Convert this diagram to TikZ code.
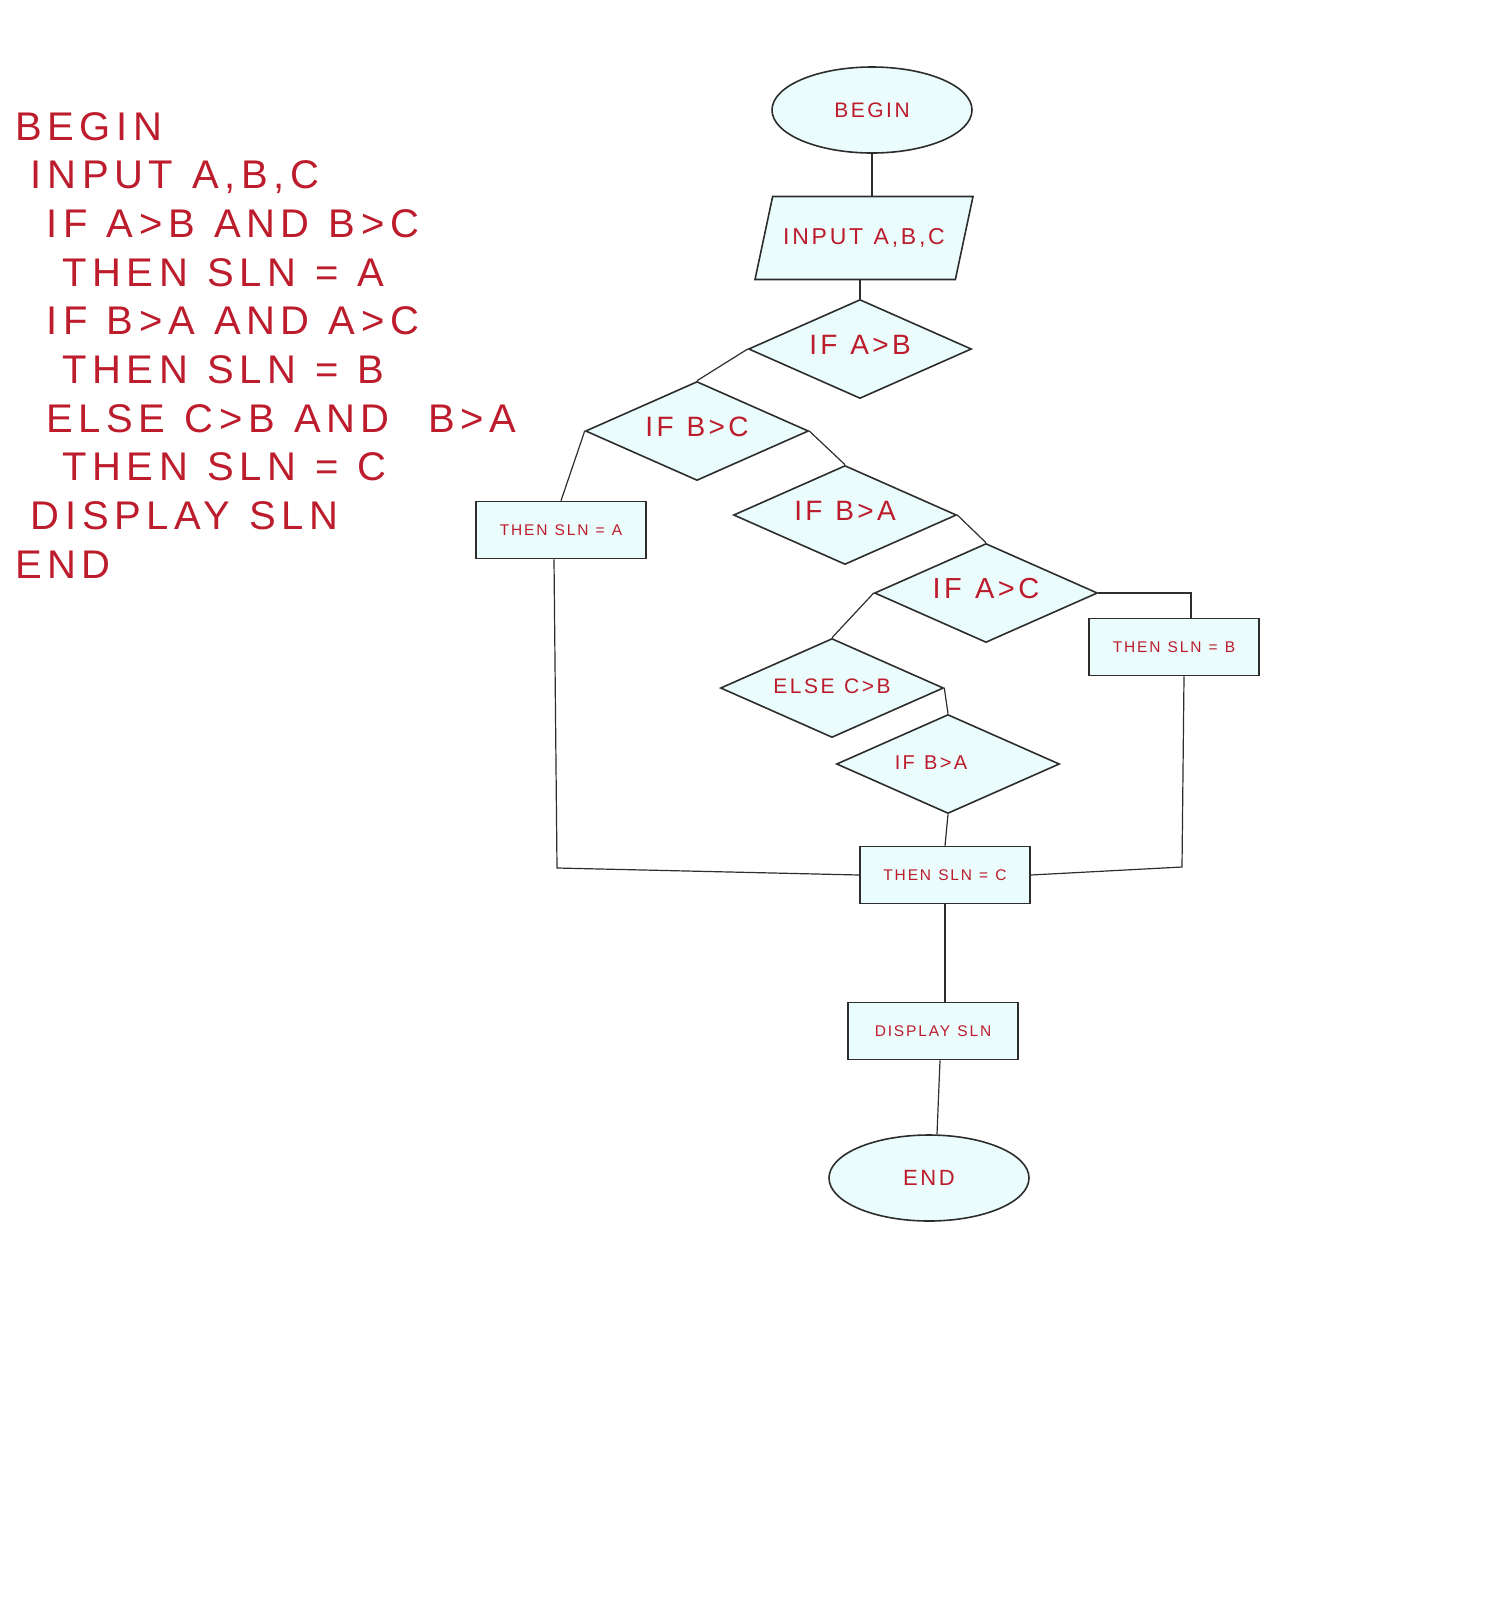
\documentclass[tikz,border=0pt]{standalone}
\usepackage{fontspec}
\setmainfont{Liberation Sans}
\newfontfamily\codefont[LetterSpace=14,WordSpace=1.15]{Liberation Sans}
\newfontfamily\chartfont[LetterSpace=12,WordSpace=1.15]{Liberation Sans}
\usetikzlibrary{shapes.geometric}

\definecolor{codered}{RGB}{188,28,44}
\definecolor{boxfill}{RGB}{234,252,252}
\definecolor{edgegray}{RGB}{45,45,45}
\newcommand\sz[1]{\fontsize{#1}{#1}\selectfont}

\tikzset{
  chart/.style={draw=edgegray, fill=boxfill, line width=1.6pt, inner sep=0pt, text=codered},
  terminal/.style={chart, ellipse, minimum width=200pt, minimum height=86pt, font=\chartfont\sz{21}},
  io/.style={chart, trapezium, trapezium left angle=78, trapezium right angle=102,
    trapezium stretches body=true, text height=16pt, text depth=4pt, inner ysep=31.5pt,
    minimum width=218pt, font=\chartfont\sz{23}},
  decision/.style={chart, diamond, aspect=2.25, minimum width=223pt, minimum height=99pt,
    text height=20pt, text depth=10pt, font=\chartfont\sz{28}},
  process/.style={chart, rectangle, minimum width=170pt, minimum height=57pt, font=\chartfont\sz{15.5}},
  code/.style={text=codered, inner sep=0pt, anchor=base west, font=\codefont\sz{40}},
  link/.style={draw=edgegray, line width=1.2pt},
}

\begin{document}
\begin{tikzpicture}[x=1pt,y=-1pt]
  \useasboundingbox (0,0) rectangle (1500,1615);

  % pseudo code
  \foreach \lvl/\txt [count=\i from 0] in {0/BEGIN, 1/{INPUT A,B,C}, 2/{IF A>B AND B>C},
      3/{THEN SLN = A}, 2/{IF B>A AND A>C}, 3/{THEN SLN = B}, 2/{ELSE C>B AND \ B>A},
      3/{THEN SLN = C}, 1/{DISPLAY SLN}, 0/END}
    \node[code] (code\i) at ({15+15.7*\lvl}, {140+48.7*\i}) {\txt};

  % flowchart
  \node[terminal] (begin) at (872,110) {BEGIN};
  \node[io] (input) at (864,238) {INPUT A,B,C};
  \node[decision] (ifab) at (860,349) {IF A>B};
  \node[decision] (ifbc) at (697,431) {IF B>C};
  \node[decision] (ifba) at (845,515) {IF B>A};
  \node[decision, font=\chartfont\sz{29}] (ifac) at (986,593) {IF A>C};
  \node[decision, font=\chartfont\sz{21}] (elsecb) at (832,688) {ELSE C>B};
  \node[decision, font=\chartfont\sz{20}] (ifbalow) at (948,764) {IF B>A\hspace*{34pt}};
  \node[process] (slna) at (561,530) {THEN SLN = A};
  \node[process] (slnb) at (1174,647) {THEN SLN = B};
  \node[process] (slnc) at (945,875) {THEN SLN = C};
  \node[process] (display) at (933,1031) {DISPLAY SLN};
  \node[terminal, font=\chartfont\sz{22}] (end) at (929,1178) {END};

  \coordinate (joina) at (557,868);
  \coordinate (joinb) at (1182,867);

  \draw[link] (begin.south) -- (begin.south |- input.north);
  \draw[link] (ifab.north |- input.south) -- (ifab.north);
  \draw[link] (ifab.west) -- (ifbc.north);
  \draw[link] (ifbc.west) -- (slna.north);
  \draw[link] (ifbc.east) -- (ifba.north);
  \draw[link] (ifba.east) -- (ifac.north);
  \draw[link] (ifac.east) -| ([xshift=17pt]slnb.north);
  \draw[link] (ifac.west) -- (elsecb.north);
  \draw[link] (elsecb.east) -- (ifbalow.north);
  \draw[link] (ifbalow.south) -- (slnc.north);
  \draw[link] ([xshift=-7pt]slna.south) -- (joina) -- (slnc.west);
  \draw[link] ([xshift=10pt]slnb.south) -- (joinb) -- (slnc.east);
  \draw[link] (slnc.south) -- (slnc.south |- display.north);
  \draw[link] ([xshift=7pt]display.south) -- ([xshift=8pt]end.north);
\end{tikzpicture}
\end{document}
